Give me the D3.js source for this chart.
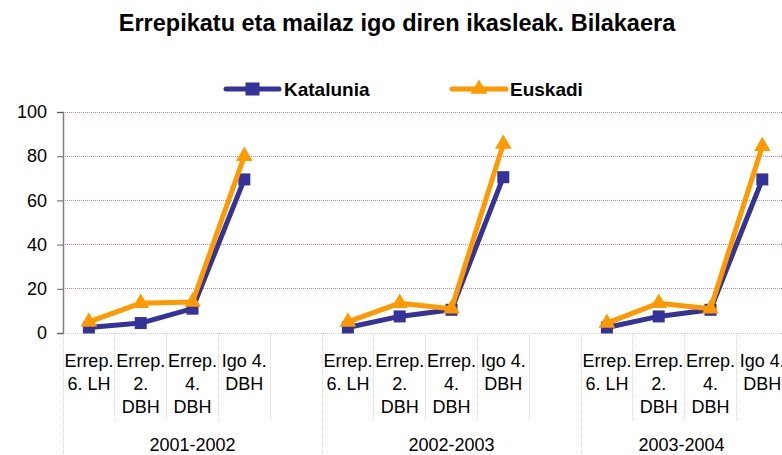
<!DOCTYPE html>
<html>
<head>
<meta charset="utf-8">
<script src="https://cdn.jsdelivr.net/npm/d3@7/dist/d3.min.js"></script>
<style>
  html, body { margin: 0; padding: 0; background: #fff; }
  svg { display: block; font-family: "Liberation Sans", Arial, sans-serif; }
</style>
</head>
<body>
<svg id="chart" width="782" height="455"></svg>
<script>
// ---- Data ----
const title = "Errepikatu eta mailaz igo diren ikasleak. Bilakaera";
const categories = ["Errep. 6. LH", "Errep. 2. DBH", "Errep. 4. DBH", "Igo 4. DBH"];
const years = ["2001-2002", "2002-2003", "2003-2004"];
const seriesNames = ["Katalunia", "Euskadi"];
const katalunia2001 = [2.5, 4.5, 11, 69.5];
const katalunia2002 = [2.5, 7.5, 10.5, 70.5];
const katalunia2003 = [2.5, 7.5, 10.5, 69.5];
const euskadi2001 = [5, 13.5, 14, 80];
const euskadi2002 = [5, 13.5, 11, 85.5];
const euskadi2003 = [4.5, 13.5, 11, 84.5];
const yTicks = [0, 20, 40, 60, 80, 100];

const seriesValues = {
  "Katalunia": [katalunia2001, katalunia2002, katalunia2003],
  "Euskadi": [euskadi2001, euskadi2002, euskadi2003]
};
const colors = { "Katalunia": "#333399", "Euskadi": "#FF9900" };

// ---- Layout ----
const W = 782, H = 455;
const left = 63, plotTop = 112, plotBottom = 333;
const slotsPerGroup = categories.length + 1;
const slotW = 51.8;
const right = left + slotW * slotsPerGroup * years.length;

const svg = d3.select("#chart");

const slotKeys = [];
years.forEach(y => {
  categories.forEach(c => slotKeys.push(y + "|" + c));
  slotKeys.push(y + "|gap");
});

const x = d3.scaleBand().domain(slotKeys).range([left, right]).padding(0);
const y = d3.scaleLinear().domain([0, 100]).range([plotBottom, plotTop]);

// Title
svg.append("text")
  .attr("x", 397).attr("y", 31)
  .attr("text-anchor", "middle")
  .attr("font-size", 23.5).attr("font-weight", "bold")
  .attr("fill", "#000")
  .text(title);

// Horizontal gridlines
svg.append("g").selectAll("line")
  .data(yTicks.filter(t => t > 0))
  .join("line")
  .attr("x1", left).attr("x2", right)
  .attr("y1", d => y(d)).attr("y2", d => y(d))
  .attr("stroke", "#c48aae").attr("stroke-width", 1)
  .attr("stroke-dasharray", "1,1")
  .attr("shape-rendering", "crispEdges");

// X axis baseline
svg.append("line")
  .attr("x1", left).attr("x2", right)
  .attr("y1", y(0)).attr("y2", y(0))
  .attr("stroke", "#cfcfcf").attr("stroke-width", 1)
  .attr("stroke-dasharray", "1,1")
  .attr("shape-rendering", "crispEdges");

// Category dividers (slot boundaries)
const boundaries = slotKeys.map(k => x(k));
boundaries.push(right);
svg.append("g").selectAll("line")
  .data(boundaries)
  .join("line")
  .attr("x1", d => d).attr("x2", d => d)
  .attr("y1", y(0))
  .attr("y2", (d, i) => (i % slotsPerGroup === 0) ? H : 420)
  .attr("stroke", "#d4d4d4").attr("stroke-width", 1)
  .attr("stroke-dasharray", "1,1")
  .attr("shape-rendering", "crispEdges");

// Y axis
const yAxis = d3.axisLeft(y).tickValues(yTicks).tickSize(6).tickPadding(10).tickFormat(d3.format("d"));
const gy = svg.append("g").attr("transform", `translate(${left},0)`).call(yAxis);
gy.select(".domain").attr("stroke", "#808080").attr("stroke-width", 1.5);
gy.selectAll(".tick line").attr("stroke", "#606060");
gy.selectAll(".tick text").attr("font-size", 18).attr("fill", "#000")
  .attr("font-family", "Liberation Sans, Arial, sans-serif");

// Category labels with wrapping
const labelG = svg.append("g");
years.forEach(yr => {
  categories.forEach(c => {
    const cx = x(yr + "|" + c) + x.bandwidth() / 2;
    const t = labelG.append("text")
      .attr("x", cx).attr("y", 367)
      .attr("text-anchor", "middle")
      .attr("font-size", 18).attr("fill", "#000");
    const words = c.split(" ");
    let line = [], lineNo = 0;
    let tspan = t.append("tspan").attr("x", cx).attr("dy", 0);
    words.forEach(w => {
      line.push(w);
      tspan.text(line.join(" "));
      if (tspan.node().getComputedTextLength() > 51 && line.length > 1) {
        line.pop();
        tspan.text(line.join(" "));
        line = [w];
        lineNo++;
        tspan = t.append("tspan").attr("x", cx).attr("dy", 23).text(w);
      }
    });
  });
});

// Group (year) labels
years.forEach(yr => {
  const start = x(yr + "|" + categories[0]);
  const end = Math.min(x(yr + "|gap") + x.bandwidth(), W);
  svg.append("text")
    .attr("x", (start + end) / 2).attr("y", 451)
    .attr("text-anchor", "middle")
    .attr("font-size", 18).attr("fill", "#000")
    .text(yr);
});

// Series lines and markers
const line = d3.line().x(d => d.x).y(d => d.y);
const triangle = d3.symbol().type(d3.symbolTriangle).size(120);

seriesNames.forEach(name => {
  const g = svg.append("g");
  years.forEach((yr, gi) => {
    const pts = categories.map((c, ci) => ({
      x: x(yr + "|" + c) + x.bandwidth() / 2,
      y: y(seriesValues[name][gi][ci])
    }));
    g.append("path").datum(pts)
      .attr("d", line)
      .attr("fill", "none")
      .attr("stroke", colors[name])
      .attr("stroke-width", 5)
      .attr("stroke-linejoin", "round")
      .attr("stroke-linecap", "round");
    if (name === "Katalunia") {
      g.selectAll(null).data(pts).join("rect")
        .attr("x", d => d.x - 6).attr("y", d => d.y - 6)
        .attr("width", 12).attr("height", 12)
        .attr("fill", colors[name]);
    } else {
      g.selectAll(null).data(pts).join("path")
        .attr("d", triangle)
        .attr("transform", d => `translate(${d.x},${d.y})`)
        .attr("fill", colors[name]);
    }
  });
});

// Legend
const legend = [
  { name: "Katalunia", x1: 226, x2: 279, ty: 89, tx: 284 },
  { name: "Euskadi", x1: 452, x2: 506, ty: 89, tx: 510 }
];
legend.forEach(l => {
  const g = svg.append("g");
  g.append("line")
    .attr("x1", l.x1).attr("x2", l.x2)
    .attr("y1", l.ty).attr("y2", l.ty)
    .attr("stroke", colors[l.name]).attr("stroke-width", 5)
    .attr("stroke-linecap", "round");
  const mx = (l.x1 + l.x2) / 2;
  if (l.name === "Katalunia") {
    g.append("rect").attr("x", mx - 7).attr("y", l.ty - 6.5)
      .attr("width", 14).attr("height", 13).attr("fill", colors[l.name]);
  } else {
    g.append("path").attr("d", triangle)
      .attr("transform", `translate(${mx},${l.ty})`)
      .attr("fill", colors[l.name]);
  }
  g.append("text")
    .attr("x", l.tx).attr("y", l.ty + 7)
    .attr("font-size", 19).attr("font-weight", "bold")
    .attr("fill", "#000")
    .text(l.name);
});
</script>
</body>
</html>
